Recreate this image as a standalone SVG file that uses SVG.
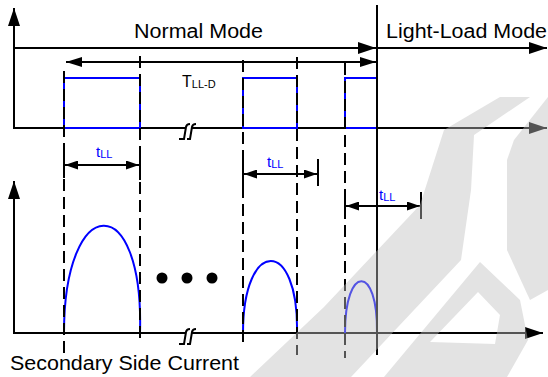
<svg xmlns="http://www.w3.org/2000/svg" width="548" height="377" viewBox="0 0 548 377">
<style>
.ln{stroke:#000;stroke-width:2;fill:none}
.ds{stroke:#000;stroke-width:2;fill:none;stroke-dasharray:12 6}
.bl{stroke:#0000ff;stroke-width:2;fill:none}
.tx{font-family:"Liberation Sans",Arial,sans-serif;fill:#000}
.bt{font-family:"Liberation Sans",Arial,sans-serif;fill:#0000ff}
</style>
<defs>
<marker id="aL" markerUnits="userSpaceOnUse" markerWidth="18" markerHeight="14" refX="18" refY="7" orient="auto-start-reverse"><path d="M0,1 L18,7 L0,13 Z" fill="#000"/></marker>
<marker id="aM" markerUnits="userSpaceOnUse" markerWidth="16" markerHeight="10" refX="16" refY="5" orient="auto-start-reverse"><path d="M0,0 L16,5 L0,10 Z" fill="#000"/></marker>
<marker id="aS" markerUnits="userSpaceOnUse" markerWidth="13" markerHeight="9" refX="13" refY="4.5" orient="auto-start-reverse"><path d="M0,0 L13,4.5 L0,9 Z" fill="#000"/></marker>
</defs>
<rect width="548" height="377" fill="#fff"/>
<g id="axes">
<line class="ln" x1="14" y1="128" x2="14" y2="8" marker-end="url(#aL)"/>
<line class="ln" x1="13" y1="128" x2="185" y2="128"/>
<line class="ln" x1="192" y1="128" x2="547" y2="128" marker-end="url(#aL)"/>
<path class="ln" d="M179,139 H184 L186,127 Q186.5,124 190,124"/>
<path class="ln" d="M187,139 L190,139 L192,127 Q192.5,124 196,124"/>
<line class="ln" x1="14" y1="333" x2="14" y2="181" marker-end="url(#aL)"/>
<line class="ln" x1="13" y1="333" x2="185" y2="333"/>
<line class="ln" x1="192" y1="333" x2="543" y2="333" marker-end="url(#aL)"/>
<path class="ln" d="M179,344 H184 L186,332 Q186.5,329 190,329"/>
<path class="ln" d="M187,344 L190,344 L192,332 Q192.5,329 196,329"/>
</g>
<g id="pulses">
<path class="bl" d="M64,128 V78 H140 V128 Z"/>
<path class="bl" d="M243,128 V78 H297 V128 Z"/>
<path class="bl" d="M345,128 V78 H377 V128 Z"/>
</g>
<g id="humps">
<path class="bl" d="M64,333 C64,192 144,188 140,333"/>
<path class="bl" d="M243,333 C243,237 299,237 297,333"/>
<path class="bl" d="M345,333 C345,264 378,264 377,333"/>
<circle cx="162" cy="278" r="5.5" fill="#000"/>
<circle cx="187" cy="278" r="5.5" fill="#000"/>
<circle cx="212" cy="278" r="5.5" fill="#000"/>
</g>
<g id="connectors">
<line class="ds" x1="64" y1="71" x2="64" y2="353"/>
<line class="ds" x1="140" y1="56" x2="140" y2="340"/>
<line class="ds" x1="243" y1="60" x2="243" y2="343"/>
<line class="ds" x1="297" y1="57" x2="297" y2="355"/>
<line class="ds" x1="345" y1="63" x2="345" y2="358"/>
<line class="ln" x1="377" y1="5" x2="377" y2="355"/>
<line class="ln" x1="14" y1="48" x2="376" y2="48" marker-end="url(#aL)"/>
<line class="ln" x1="377" y1="48" x2="547" y2="48" marker-end="url(#aL)"/>
<line class="ln" x1="66" y1="62" x2="376" y2="62" marker-start="url(#aM)" marker-end="url(#aM)"/>
<line class="ln" x1="65" y1="165" x2="139" y2="165" marker-start="url(#aS)" marker-end="url(#aS)"/>
<line class="ln" x1="244" y1="174" x2="317" y2="174" marker-start="url(#aS)" marker-end="url(#aS)"/>
<line class="ln" x1="346" y1="206" x2="420" y2="206" marker-start="url(#aS)" marker-end="url(#aS)"/>
<line class="ln" x1="64" y1="151" x2="64" y2="178"/>
<line class="ln" x1="140" y1="150" x2="140" y2="180"/>
<line class="ln" x1="243" y1="160" x2="243" y2="188"/>
<line class="ln" x1="318" y1="159" x2="318" y2="186"/>
<line class="ln" x1="345" y1="192" x2="345" y2="218"/>
<line class="ln" x1="421" y1="192" x2="421" y2="219"/>
</g>
<g id="labels">
<text class="tx" x="134" y="38" font-size="20" textLength="129" lengthAdjust="spacingAndGlyphs">Normal Mode</text>
<text class="tx" x="386" y="38" font-size="20" textLength="161" lengthAdjust="spacingAndGlyphs">Light-Load Mode</text>
<text class="tx" x="10" y="370" font-size="20" textLength="229" lengthAdjust="spacingAndGlyphs">Secondary Side Current</text>
<text class="tx" x="182" y="87" font-size="16">T<tspan font-size="11" dy="1">LL-D</tspan></text>
<text class="bt" x="96" y="157" font-size="15">t<tspan font-size="11" dy="1">LL</tspan></text>
<text class="bt" x="267" y="167" font-size="15">t<tspan font-size="11" dy="1">LL</tspan></text>
<text class="bt" x="379" y="200" font-size="15">t<tspan font-size="11" dy="1">LL</tspan></text>
</g>
<g id="watermark" opacity="0.44" fill="#c0c0c0">
<path d="M250,377 L324,307 L420,205 L444,130 L500,97 L530,97 L474,135 L471,190 L461,260 L351,377 Z"/>
<path d="M514,140 L548,97 L548,290 L530,300 L507,250 L507,160 Z"/>
<path fill-rule="evenodd" d="M384,377 L480,262 L520,300 L528,340 L507,377 Z M430,342 L478,292 L500,315 L495,344 Z"/>
</g>
</svg>
